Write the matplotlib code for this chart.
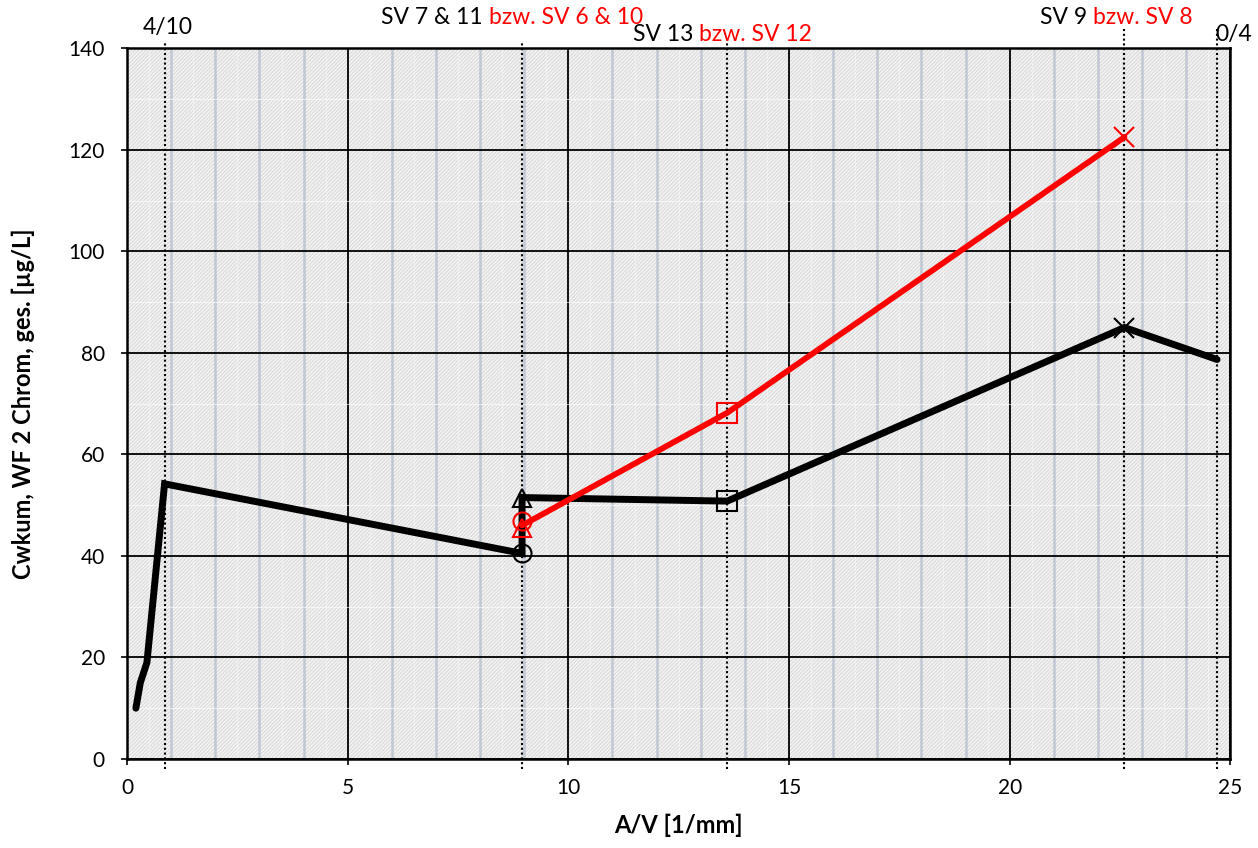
import matplotlib
matplotlib.use("Agg")
import matplotlib.pyplot as plt
from matplotlib.patches import Rectangle
from matplotlib.ticker import MultipleLocator

plt.rcParams['font.family'] = ['Lato', 'DejaVu Sans']
plt.rcParams['hatch.linewidth'] = 0.8

# black series (SV 7/11, SV 13, SV 9 ...)
av_black = [0.2, 0.3, 0.45, 0.85, 8.95, 8.95, 13.6, 22.6, 24.7]
c_black = [10, 15, 19, 54.2, 40.5, 51.5, 50.8, 85, 78.7]

# red series (SV 6/10, SV 12, SV 8)
av_red = [8.95, 13.6, 22.6]
c_red = [46, 68.2, 122.5]
red_circle = (8.95, 46.8)
red_triangle = (8.95, 45.5)

# dotted marker lines
vlines_x = [0.85, 8.95, 13.6, 22.6, 24.7]

fig = plt.figure(figsize=(12.58, 8.48), dpi=100)
ax = fig.add_axes([0.101, 0.105, 0.877, 0.838])

ax.set_xlim(0, 25)
ax.set_ylim(0, 140)
ax.set_facecolor('#f4f4f4')
ax.add_patch(Rectangle((0, 0), 1, 1, transform=ax.transAxes, facecolor='none',
                       edgecolor='#dadada', hatch='/' * 9, lw=0, zorder=0.2))

ax.xaxis.set_major_locator(MultipleLocator(5))
ax.xaxis.set_minor_locator(MultipleLocator(1))
ax.yaxis.set_major_locator(MultipleLocator(20))
ax.yaxis.set_minor_locator(MultipleLocator(10))
ax.set_axisbelow(True)
ax.grid(which='major', color='black', lw=1.3)
ax.grid(which='minor', axis='x', color='#c0c8d3', lw=1.8)
ax.grid(which='minor', axis='y', color='white', lw=0.8, alpha=0.6)
for xh in [i + 0.5 for i in range(25)]:
    ax.axvline(xh, color='white', lw=0.8, alpha=0.4, zorder=0.3)

for s in ax.spines.values():
    s.set_color('black')
    s.set_linewidth(1.8)
ax.tick_params(which='major', direction='out', length=4, width=1.2, labelsize=15)
ax.tick_params(axis='x', which='major', pad=10)
ax.tick_params(axis='y', which='major', pad=12)
ax.tick_params(which='minor', length=0)

# dotted lines
for xv in vlines_x:
    top = 141.5 if xv < 20 else 144
    ax.plot([xv, xv], [-2, top], color='black', ls=(0, (1, 1.3)), lw=1.5,
            clip_on=False, zorder=2)

# black line + markers
ax.plot(av_black, c_black, color='black', lw=5, solid_capstyle='round',
        solid_joinstyle='miter', zorder=4)
ax.plot(av_black[4], c_black[4], 'o', ms=13, mfc='none', mec='black', mew=1.5, zorder=5)
ax.plot(av_black[5], c_black[5], '^', ms=13, mfc='none', mec='black', mew=1.5, zorder=5)
ax.plot(av_black[6], c_black[6], 's', ms=14, mfc='none', mec='black', mew=1.5, zorder=5)
ax.plot(av_black[7], c_black[7], 'x', ms=15, mec='black', mew=1.5, zorder=5)

# red line + markers
ax.plot(av_red, c_red, color='red', lw=4.2, solid_capstyle='round', zorder=6)
ax.plot(red_circle[0], red_circle[1], 'o', ms=13, mfc='none', mec='red', mew=1.5, zorder=7)
ax.plot(red_triangle[0], red_triangle[1], '^', ms=13, mfc='none', mec='red', mew=1.5, zorder=7)
ax.plot(av_red[1], c_red[1], 's', ms=14, mfc='none', mec='red', mew=1.5, zorder=7)
ax.plot(av_red[2], c_red[2], 'x', ms=15, mec='red', mew=1.5, zorder=7)

ax.set_xlabel('A/V [1/mm]', fontsize=17, fontweight='bold', labelpad=11)
ax.set_ylabel('Cwkum, WF 2 Chrom, ges. [µg/L]', fontsize=17, fontweight='bold', labelpad=24)

# labels above the plot
fs = 16.5
fig.text(0.133, 0.967, '4/10', fontsize=fs, ha='center', va='center')
fig.text(0.3885, 0.979, 'SV 7 & 11 ', fontsize=fs, ha='right', va='center')
fig.text(0.3885, 0.979, 'bzw. SV 6 & 10', fontsize=fs, ha='left', va='center', color='red')
fig.text(0.5555, 0.959, 'SV 13 ', fontsize=fs, ha='right', va='center')
fig.text(0.5555, 0.959, 'bzw. SV 12', fontsize=fs, ha='left', va='center', color='red')
fig.text(0.869, 0.979, 'SV 9 ', fontsize=fs, ha='right', va='center')
fig.text(0.869, 0.979, 'bzw. SV 8', fontsize=fs, ha='left', va='center', color='red')
fig.text(0.981, 0.959, '0/4', fontsize=fs, ha='center', va='center')

fig.savefig('out.png', dpi=100)
